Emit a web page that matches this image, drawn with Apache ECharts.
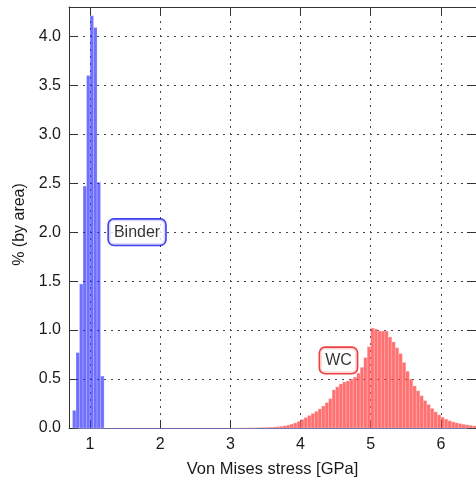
<!DOCTYPE html>
<html>
<head>
<meta charset="utf-8">
<script src="https://cdn.jsdelivr.net/npm/echarts@6/dist/echarts.min.js"></script>
<style>
html,body{margin:0;padding:0;background:#fff;}
#chart{width:476px;height:483px;}
</style>
</head>
<body>
<div id="chart"></div>
<script>
// ---- data ----
const binSize = 0.05; // GPa
const binderStart = 0.75;
const binderPct = [0.18, 0.77, 1.47, 2.47, 3.60, 4.21, 4.09, 2.51, 0.53];
const wcStart = 3.0;
const wcPct = [
  0.001, 0.001, 0.001, 0.002, 0.002, 0.003, 0.003, 0.004, 0.005, 0.006,
  0.007, 0.009, 0.011, 0.014, 0.018, 0.023, 0.030, 0.040, 0.052, 0.068,
  0.088, 0.108, 0.128, 0.148, 0.170, 0.195, 0.225, 0.260, 0.300, 0.390,
  0.420, 0.450, 0.470, 0.480, 0.500, 0.520, 0.560, 0.620, 0.720, 0.830,
  1.020, 1.010, 0.990, 0.990, 0.990, 0.930, 0.880, 0.820, 0.760, 0.670,
  0.580, 0.500, 0.430, 0.380, 0.330, 0.280, 0.240, 0.200, 0.165, 0.135,
  0.110, 0.090, 0.075, 0.063, 0.053, 0.045, 0.038, 0.032, 0.027, 0.022
];
const xTicks = [1, 2, 3, 4, 5, 6];
const yTicks = [0, 0.5, 1.0, 1.5, 2.0, 2.5, 3.0, 3.5, 4.0];
const xRange = [0.7, 6.5];
const yRange = [0, 4.3];
const xTitle = 'Von Mises stress [GPa]';
const yTitle = '% (by area)';
const annotations = [
  { text: 'Binder', x: 1.67, y: 2.0, color: '#1010e8' },
  { text: 'WC', x: 4.54, y: 0.69, color: '#e81010' }
];

function toBins(start, values) {
  return values.map((v, i) => [start + i * binSize, start + (i + 1) * binSize, v]);
}

function makeRender(fill) {
  return function (params, api) {
    const x0 = api.value(0), x1 = api.value(1), y = api.value(2);
    const p0 = api.coord([x0, y]);
    const p1 = api.coord([x1, 0]);
    const rect = echarts.graphic.clipRectByRect({
      x: p0[0], y: p0[1], width: p1[0] - p0[0], height: p1[1] - p0[1]
    }, {
      x: params.coordSys.x, y: params.coordSys.y,
      width: params.coordSys.width, height: params.coordSys.height
    });
    if (!rect) return null;
    return {
      type: 'rect', shape: rect,
      style: { fill: fill, stroke: 'rgba(255,255,255,0.35)', lineWidth: 0.6 }
    };
  };
}

const FONT = "'Liberation Sans', Arial, sans-serif";
const frameColor = '#333';

const chart = echarts.init(document.getElementById('chart'), null, { renderer: 'canvas' });
chart.setOption({
  animation: false,
  backgroundColor: '#fff',
  grid: { left: 69, top: 7, width: 408, height: 421, containLabel: false },
  xAxis: [
    {
      type: 'value', position: 'bottom', min: xRange[0], max: xRange[1],
      name: xTitle, nameLocation: 'middle', nameGap: 33,
      nameTextStyle: { fontFamily: FONT, fontSize: 16.5, color: '#1a1a1a' },
      axisLine: { show: true, onZero: false, lineStyle: { color: '#6a64a8', width: 1 } },
      axisTick: { show: true, inside: true, length: 8, customValues: xTicks, lineStyle: { color: frameColor } },
      axisLabel: { show: true, margin: 9, customValues: xTicks, fontFamily: FONT, fontSize: 16, color: '#1a1a1a' },
      splitLine: { show: true, lineStyle: { color: '#444', type: [2, 5], width: 1 } }
    },
    {
      type: 'value', position: 'top', min: xRange[0], max: xRange[1],
      axisLine: { show: true, onZero: false, lineStyle: { color: frameColor, width: 1 } },
      axisTick: { show: true, inside: true, length: 8, customValues: xTicks, lineStyle: { color: frameColor } },
      axisLabel: { show: false },
      splitLine: { show: false }
    }
  ],
  yAxis: [
    {
      type: 'value', position: 'left', min: yRange[0], max: yRange[1],
      name: yTitle, nameLocation: 'middle', nameGap: 35, nameRotate: 90,
      nameTextStyle: { fontFamily: FONT, fontSize: 16, color: '#1a1a1a', padding: [0, 14, 0, 0] },
      axisLine: { show: true, onZero: false, lineStyle: { color: frameColor, width: 1 } },
      axisTick: { show: true, inside: true, length: 9, customValues: yTicks, lineStyle: { color: frameColor } },
      axisLabel: {
        show: true, margin: 8, customValues: yTicks, fontFamily: FONT, fontSize: 16, color: '#1a1a1a',
        formatter: (v) => Number(v).toFixed(1)
      },
      splitLine: { show: true, lineStyle: { color: '#444', type: [2, 5], width: 1 } }
    },
    {
      type: 'value', position: 'right', min: yRange[0], max: yRange[1],
      axisLine: { show: true, onZero: false, lineStyle: { color: frameColor, width: 1 } },
      axisTick: { show: true, inside: true, length: 9, customValues: yTicks, lineStyle: { color: frameColor } },
      axisLabel: { show: false },
      splitLine: { show: false }
    }
  ],
  series: [
    {
      type: 'custom', name: 'WC', xAxisIndex: 0, yAxisIndex: 0,
      renderItem: makeRender('rgba(255,0,0,0.56)'),
      encode: { x: [0, 1], y: 2 },
      data: toBins(wcStart, wcPct), z: 3
    },
    {
      type: 'custom', name: 'Binder', xAxisIndex: 0, yAxisIndex: 0,
      renderItem: makeRender('rgba(0,0,255,0.56)'),
      encode: { x: [0, 1], y: 2 },
      data: toBins(binderStart, binderPct), z: 3
    },
    {
      type: 'scatter', xAxisIndex: 0, yAxisIndex: 0, symbolSize: 0, z: 10,
      emphasis: { disabled: true },
      data: annotations.map(a => ({
        value: [a.x, a.y],
        label: {
          show: true, position: 'inside', formatter: a.text,
          fontFamily: FONT, fontSize: 16, color: '#000',
          textBorderWidth: 0, textBorderColor: 'transparent',
          backgroundColor: '#fff', borderColor: a.color, borderWidth: 1.6, borderRadius: 5,
          padding: [5, 5, 4, 5]
        }
      }))
    }
  ]
});
</script>
</body>
</html>
